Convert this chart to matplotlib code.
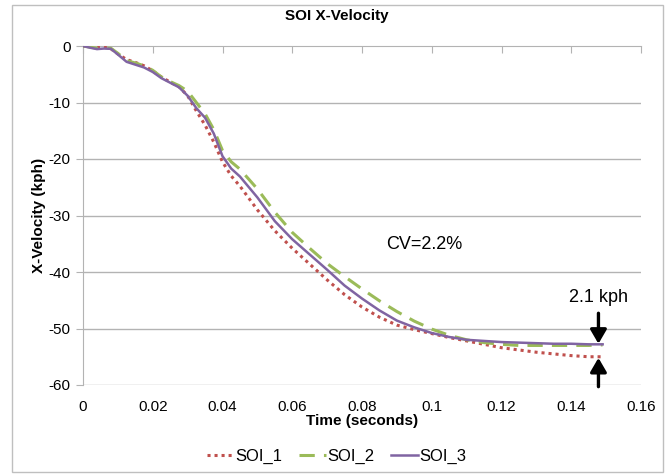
import matplotlib
matplotlib.use("Agg")
import matplotlib.pyplot as plt
from matplotlib.patches import Rectangle

plt.rcParams['font.family'] = ['Liberation Sans', 'DejaVu Sans']
plt.rcParams['axes.unicode_minus'] = False

time_s = [0, 0.002, 0.004, 0.006, 0.008, 0.010, 0.0125, 0.015, 0.0175, 0.02,
          0.0225, 0.025, 0.0275, 0.03, 0.0325, 0.035, 0.0375, 0.04, 0.0425, 0.045,
          0.05, 0.055, 0.06, 0.065, 0.07, 0.075, 0.08, 0.085, 0.09, 0.095,
          0.1, 0.105, 0.11, 0.115, 0.12, 0.125, 0.13, 0.135, 0.14, 0.145, 0.149]

soi_1 = [0, -0.2, -0.3, -0.2, -0.5, -1.4, -2.4, -2.9, -3.5, -4.4,
         -5.5, -6.4, -7.2, -8.8, -11.5, -14.0, -17.0, -20.5, -23.0, -24.8,
         -29.0, -32.7, -35.8, -38.6, -41.4, -44.0, -46.2, -48.0, -49.4, -50.2,
         -50.9, -51.6, -52.2, -52.8, -53.4, -53.8, -54.2, -54.5, -54.8, -55.0, -55.0]

soi_2 = [0, -0.2, -0.4, -0.35, -0.4, -1.3, -2.6, -3.0, -3.5, -4.3,
         -5.5, -6.3, -7.0, -8.0, -10.0, -12.0, -14.8, -18.5, -20.5, -21.8,
         -25.3, -29.4, -33.0, -35.8, -38.5, -40.8, -43.0, -45.1, -47.0, -48.7,
         -50.1, -51.2, -52.0, -52.5, -52.8, -53.0, -53.0, -53.0, -53.0, -53.0, -52.9]

soi_3 = [0, -0.3, -0.55, -0.45, -0.5, -1.5, -2.8, -3.3, -3.8, -4.6,
         -5.7, -6.5, -7.3, -8.8, -11.0, -12.7, -15.5, -19.5, -21.7, -23.1,
         -26.8, -31.0, -34.2, -36.9, -39.6, -42.4, -44.7, -46.8, -48.6, -49.8,
         -50.8, -51.5, -52.0, -52.2, -52.4, -52.5, -52.6, -52.7, -52.7, -52.8, -52.8]

series_names = ['SOI_1', 'SOI_2', 'SOI_3']
x_ticks = [0, 0.02, 0.04, 0.06, 0.08, 0.1, 0.12, 0.14, 0.16]
x_tick_labels = ['0', '0.02', '0.04', '0.06', '0.08', '0.1', '0.12', '0.14', '0.16']
y_ticks = [0, -10, -20, -30, -40, -50, -60]

fig = plt.figure(figsize=(6.67, 4.76), dpi=100)
ax = fig.add_axes([83/667, 1 - 385/476, (641 - 83)/667, (385 - 46)/476])

grid_c = '#b3b3b3'
for y in y_ticks[1:]:
    ax.axhline(y, color=grid_c, lw=1, zorder=0)

ax.plot(time_s, soi_1, color='#c0504d', lw=2.2, linestyle=(0, (1, 1.3)), label=series_names[0], zorder=3)
ax.plot(time_s, soi_2, color='#9bbb59', lw=2.2, linestyle=(0, (5, 3)), label=series_names[1], zorder=3)
ax.plot(time_s, soi_3, color='#8064a2', lw=1.8, linestyle='-', label=series_names[2], zorder=4)

ax.set_xlim(0, 0.16)
ax.set_ylim(-60, 0)
ax.set_xticks(x_ticks)
ax.set_xticklabels(x_tick_labels)
ax.set_yticks(y_ticks)

for s in ['right', 'bottom']:
    ax.spines[s].set_visible(False)
ax.spines['top'].set_color(grid_c)
ax.spines['left'].set_color(grid_c)
ax.tick_params(axis='x', bottom=False, top=True, labelbottom=True, labeltop=False,
               direction='in', length=5, color=grid_c, labelsize=11, pad=11)
ax.tick_params(axis='y', direction='out', length=5, color=grid_c, labelsize=11, pad=4)

ax.set_xlabel('Time (seconds)', fontsize=11, fontweight='bold', labelpad=0)
ax.set_ylabel('X-Velocity (kph)', fontsize=11, fontweight='bold', labelpad=2)
fig.text(0.505, 1 - 16/476, 'SOI X-Velocity', ha='center', va='center', fontsize=11, fontweight='bold')

ax.text(0.0978, -35.2, 'CV=2.2%', fontsize=13, ha='center', va='center')
ax.text(0.1478, -44.6, '2.1 kph', fontsize=13, ha='center', va='center')
ax.annotate('', xy=(0.1478, -52.7), xytext=(0.1478, -47.3),
            arrowprops=dict(arrowstyle='-|>,head_length=0.6,head_width=0.35', color='black', lw=2.4,
                            mutation_scale=14, shrinkA=0, shrinkB=0))
ax.annotate('', xy=(0.1478, -55.2), xytext=(0.1478, -60.3),
            arrowprops=dict(arrowstyle='-|>,head_length=0.6,head_width=0.35', color='black', lw=2.4,
                            mutation_scale=14, shrinkA=0, shrinkB=0), annotation_clip=False)

handles, labels = ax.get_legend_handles_labels()
fig.legend(handles, labels, loc='center', bbox_to_anchor=(0.505, 1 - 456/476), ncol=3,
           frameon=False, fontsize=12, handlelength=1.6, handletextpad=0.1, columnspacing=1.0)

fig.add_artist(Rectangle((12/667, 1 - 472/476), (663 - 12)/667, (472 - 5)/476,
                         transform=fig.transFigure, fill=False, edgecolor='#bfbfbf', lw=1))

fig.savefig('out.png', dpi=100)
